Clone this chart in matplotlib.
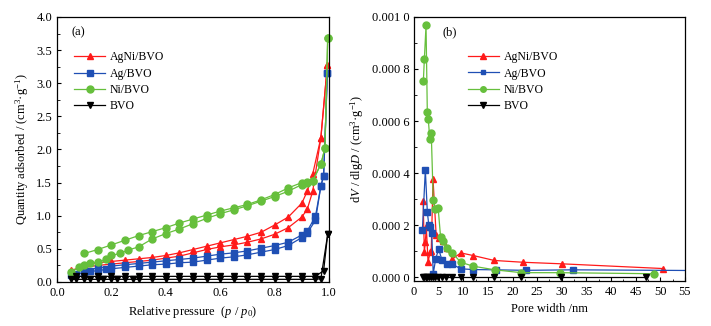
import matplotlib
matplotlib.use("Agg")
import matplotlib.pyplot as plt
from matplotlib.ticker import MultipleLocator, FuncFormatter

plt.rcParams["font.family"] = ["Liberation Serif", "DejaVu Serif"]
plt.rcParams["mathtext.fontset"] = "custom"
plt.rcParams["mathtext.rm"] = "Liberation Serif"
plt.rcParams["mathtext.it"] = "Liberation Serif:italic"
plt.rcParams["font.size"] = 9

# N2 isotherms: adsorption (ads) and desorption (des) branches
agni_ads_p = [0.05, 0.1, 0.15, 0.2, 0.25, 0.3, 0.35, 0.4, 0.45, 0.5, 0.55, 0.6, 0.65, 0.7, 0.75, 0.8, 0.85, 0.9, 0.92, 0.94, 0.97, 0.994]
agni_ads_q = [0.18, 0.22, 0.25, 0.27, 0.29, 0.31, 0.33, 0.36, 0.39, 0.44, 0.49, 0.53, 0.56, 0.6, 0.65, 0.72, 0.82, 0.98, 1.1, 1.37, 2.18, 3.28]
agni_des_p = [0.994, 0.97, 0.94, 0.92, 0.9, 0.85, 0.8, 0.75, 0.7, 0.65, 0.6, 0.55, 0.5, 0.45, 0.4, 0.35, 0.3, 0.25, 0.2, 0.15, 0.1]
agni_des_q = [3.28, 2.18, 1.63, 1.37, 1.19, 0.98, 0.86, 0.75, 0.69, 0.64, 0.59, 0.54, 0.49, 0.44, 0.4, 0.37, 0.35, 0.33, 0.31, 0.29, 0.26]

ag_ads_p = [0.05, 0.07, 0.1, 0.12, 0.15, 0.18, 0.2, 0.25, 0.3, 0.35, 0.4, 0.45, 0.5, 0.55, 0.6, 0.65, 0.7, 0.75, 0.8, 0.85, 0.9, 0.92, 0.95, 0.97, 0.98, 0.994]
ag_ads_q = [0.10, 0.12, 0.14, 0.16, 0.17, 0.19, 0.20, 0.22, 0.24, 0.26, 0.27, 0.29, 0.30, 0.33, 0.36, 0.38, 0.41, 0.45, 0.49, 0.55, 0.67, 0.74, 0.93, 1.45, 1.6, 3.15]
ag_des_p = [0.994, 0.98, 0.97, 0.95, 0.92, 0.9, 0.85, 0.8, 0.75, 0.7, 0.65, 0.6, 0.55, 0.5, 0.45, 0.4, 0.35, 0.3, 0.25, 0.2, 0.15, 0.1]
ag_des_q = [3.15, 1.6, 1.45, 0.99, 0.77, 0.71, 0.6, 0.55, 0.51, 0.47, 0.44, 0.42, 0.39, 0.36, 0.34, 0.32, 0.3, 0.28, 0.26, 0.24, 0.21, 0.18]

ni_ads_p = [0.05, 0.08, 0.1, 0.12, 0.15, 0.18, 0.2, 0.23, 0.26, 0.3, 0.35, 0.4, 0.45, 0.5, 0.55, 0.6, 0.65, 0.7, 0.75, 0.8, 0.85, 0.9, 0.92, 0.94, 0.97, 0.985, 0.995]
ni_ads_q = [0.15, 0.22, 0.25, 0.28, 0.30, 0.34, 0.40, 0.43, 0.48, 0.53, 0.65, 0.73, 0.80, 0.88, 0.96, 1.03, 1.09, 1.15, 1.22, 1.29, 1.37, 1.47, 1.49, 1.52, 1.78, 2.02, 3.68]
ni_des_p = [0.995, 0.985, 0.97, 0.94, 0.92, 0.9, 0.85, 0.8, 0.75, 0.7, 0.65, 0.6, 0.55, 0.5, 0.45, 0.4, 0.35, 0.3, 0.25, 0.2, 0.15, 0.1]
ni_des_q = [3.68, 2.02, 1.78, 1.53, 1.51, 1.5, 1.42, 1.32, 1.24, 1.17, 1.12, 1.07, 1.01, 0.95, 0.89, 0.82, 0.76, 0.70, 0.63, 0.56, 0.49, 0.43]

bvo_ads_p = [0.05, 0.07, 0.1, 0.12, 0.15, 0.17, 0.2, 0.22, 0.25, 0.28, 0.3, 0.35, 0.4, 0.45, 0.5, 0.55, 0.6, 0.65, 0.7, 0.75, 0.8, 0.85, 0.9, 0.95, 0.97, 0.995]
bvo_ads_q = [0.04, 0.04, 0.04, 0.04, 0.04, 0.04, 0.04, 0.04, 0.04, 0.04, 0.04, 0.04, 0.04, 0.04, 0.04, 0.04, 0.04, 0.04, 0.04, 0.04, 0.04, 0.04, 0.04, 0.04, 0.05, 0.72]
bvo_des_p = [0.995, 0.98, 0.95, 0.9, 0.85, 0.8, 0.75, 0.7, 0.65, 0.6, 0.55, 0.5, 0.45, 0.4, 0.35, 0.3, 0.25, 0.2, 0.15, 0.1, 0.07]
bvo_des_q = [0.72, 0.17, 0.085, 0.085, 0.085, 0.085, 0.085, 0.085, 0.085, 0.085, 0.085, 0.085, 0.085, 0.085, 0.085, 0.085, 0.085, 0.085, 0.085, 0.085, 0.085]

# BJH pore size distributions
agni_w = [1.85, 2.1, 2.3, 2.5, 2.85, 3.3, 3.5, 3.86, 4.5, 5.0, 5.8, 6.6, 7.8, 9.5, 12.0, 16.3, 22.2, 30.1, 50.5]
agni_dv = [0.000293, 0.000095, 0.000136, 0.000192, 0.000058, 0.000098, 0.000102, 0.000376, 0.00016, 0.000152, 0.00014, 0.000112, 0.00007, 0.000093, 0.000083, 0.000064, 0.000057, 0.000051, 0.000033]

ag_w = [1.7, 2.3, 2.7, 3.0, 3.3, 3.6, 3.9, 4.4, 5.0, 5.7, 6.6, 7.7, 9.5, 12.0, 16.7, 22.7, 32.3, 60.0]
ag_dv = [0.000182, 0.000412, 0.000251, 0.0002, 0.000192, 0.00017, 0.000013, 0.00007, 0.000108, 0.000064, 0.000052, 0.00005, 0.000032, 0.000029, 0.000028, 0.000026, 0.000028, 0.000025]

ni_w = [1.9, 2.1, 2.44, 2.7, 2.9, 3.2, 3.5, 3.9, 4.2, 4.9, 5.4, 5.8, 6.7, 7.8, 9.5, 12.0, 16.4, 21.8, 29.6, 48.7]
ni_dv = [0.000755, 0.000838, 0.000968, 0.000634, 0.000606, 0.000532, 0.000555, 0.000297, 0.000262, 0.000265, 0.000153, 0.000138, 0.000112, 0.000092, 0.000057, 0.000042, 0.000028, 0.000017, 0.000017, 0.000013]

bvo_w = [1.8, 2.1, 2.4, 2.7, 3.0, 3.4, 3.8, 4.3, 4.9, 5.6, 6.5, 7.7, 9.5, 12.0, 16.2, 21.8, 29.9, 47.1]
bvo_dv = [0.000001] * 18

labels = ["AgNi/BVO", "Ag/BVO", "Ni/BVO", "BVO"]
colors = ["#ff1a1a", "#1f4fb4", "#66bf3c", "#000000"]
markers = ["^", "s", "o", "v"]

fig = plt.figure(figsize=(7.11, 3.26), dpi=100)
ax1 = fig.add_axes([0.0802, 0.135, 0.3826, 0.813])
ax2 = fig.add_axes([0.5823, 0.138, 0.381, 0.81])

iso = [
    (agni_ads_p, agni_ads_q, agni_des_p, agni_des_q),
    (ag_ads_p, ag_ads_q, ag_des_p, ag_des_q),
    (ni_ads_p, ni_ads_q, ni_des_p, ni_des_q),
    (bvo_ads_p, bvo_ads_q, bvo_des_p, bvo_des_q),
]
for (ap, aq, dp, dq), lab, c, m in zip(iso, labels, colors, markers):
    ax1.plot(ap, aq, color=c, marker=m, ms=5, lw=0.9, label=lab, clip_on=False)
    ax1.plot(dp, dq, color=c, marker=m, ms=5, lw=0.9, clip_on=False)

ax1.set_xlim(0, 1.0)
ax1.set_ylim(0, 4.0)
ax1.xaxis.set_major_locator(MultipleLocator(0.2))
ax1.xaxis.set_minor_locator(MultipleLocator(0.1))
ax1.yaxis.set_major_locator(MultipleLocator(0.5))
ax1.yaxis.set_minor_locator(MultipleLocator(0.25))
ax1.xaxis.set_major_formatter(FuncFormatter(lambda v, p: f"{v:.1f}"))
ax1.yaxis.set_major_formatter(FuncFormatter(lambda v, p: f"{v:.1f}"))
ax1.set_xlabel(r"Relative pressure  ($p$ / $p_0$)", labelpad=4)
ax1.set_ylabel(r"Quantity adsorbed / (cm$^3$·g$^{-1}$)", labelpad=4)
ax1.text(0.055, 0.93, "(a)", transform=ax1.transAxes)
ax1.legend(loc="upper left", bbox_to_anchor=(0.025, 0.91), frameon=False,
           handlelength=2.6, labelspacing=0.36, handletextpad=0.4, fontsize=8.5)

psd = [(agni_w, agni_dv), (ag_w, ag_dv), (ni_w, ni_dv), (bvo_w, bvo_dv)]
sizes = [5, 4, 5, 5]
for (w, dv), lab, c, m, s in zip(psd, labels, colors, markers, sizes):
    ax2.plot(w, dv, color=c, marker=m, ms=s, lw=0.9, label=lab)

ax2.set_xlim(0, 55)
ax2.set_ylim(-0.000015, 0.001)
ax2.xaxis.set_major_locator(MultipleLocator(5))
ax2.xaxis.set_minor_locator(MultipleLocator(2.5))
ax2.yaxis.set_major_locator(MultipleLocator(0.0002))
ax2.yaxis.set_minor_locator(MultipleLocator(0.0001))


def psd_fmt(v, pos):
    s = f"{abs(v):.4f}"
    return s[:5] + " " + s[5:]


ax2.yaxis.set_major_formatter(FuncFormatter(psd_fmt))
ax2.set_xlabel("Pore width /nm", labelpad=4)
ax2.set_ylabel(r"d$V$ / dlg$D$ / (cm$^3$·g$^{-1}$)", labelpad=4)
ax2.text(0.105, 0.93, "(b)", transform=ax2.transAxes)
ax2.legend(loc="upper left", bbox_to_anchor=(0.16, 0.91), frameon=False,
           handlelength=2.6, labelspacing=0.36, handletextpad=0.4, fontsize=8.5,
           markerscale=0.8)

for ax in (ax1, ax2):
    ax.tick_params(which="both", direction="in", top=False, right=False)
    ax.tick_params(which="major", length=3, width=0.8)
    ax.tick_params(which="minor", length=1.8, width=0.6)
    for sp in ax.spines.values():
        sp.set_linewidth(0.9)

fig.savefig("out.png", dpi=100)
